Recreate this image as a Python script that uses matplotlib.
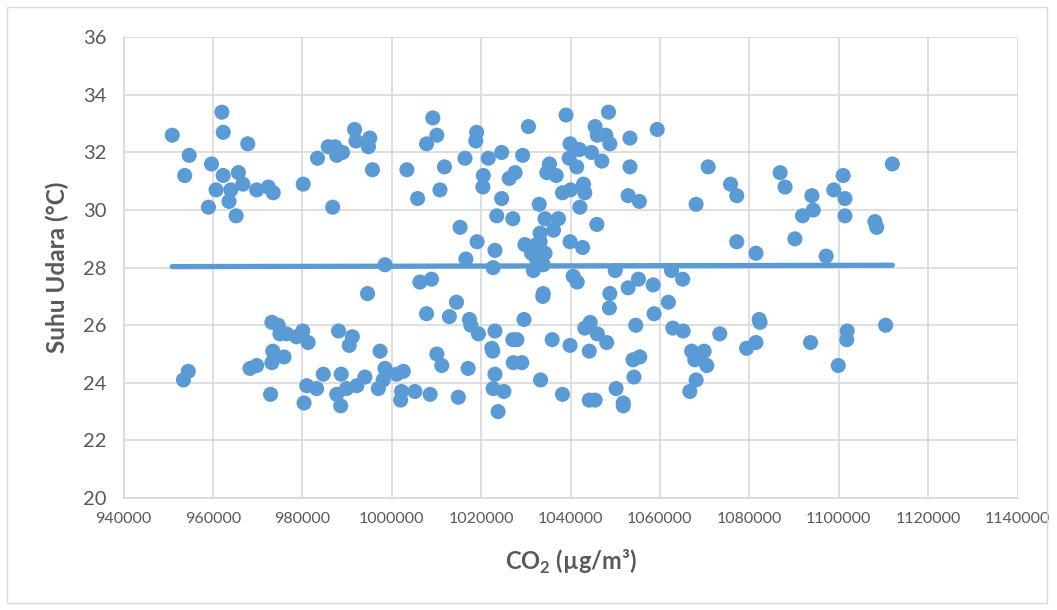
import numpy as np
import matplotlib.pyplot as plt
from matplotlib.patches import Rectangle
from matplotlib.ticker import MultipleLocator, FuncFormatter

plt.rcParams["font.family"] = ["Lato", "DejaVu Sans"]
plt.rcParams["mathtext.fontset"] = "custom"
plt.rcParams["mathtext.rm"] = "Lato"
plt.rcParams["mathtext.bf"] = "Lato:bold"

# CO2 concentration (ug/m3) vs air temperature (deg C)
co2 = [
    950900, 962000, 962300, 967800, 954700, 959700, 953700, 962300, 965700, 966700,
    960700, 964000, 963600, 969800, 972400, 973500, 959000, 965200, 980200, 983400,
    985800, 987300, 987700, 989000, 991700, 992000, 995100, 994800, 995700, 986800,
    998500,
    1009200, 1010100, 1007800, 1019000, 1018800, 1030600, 1039000, 1048500, 1045500,
    1046000, 1047900, 1048800, 1039900, 1042000, 1044700, 1039700, 1041400, 1047000, 1003400,
    1011800, 1016400, 1021600, 1024600, 1029300, 1020500, 1020400, 1026300, 1027600, 1035300,
    1034700, 1036800, 1010800, 1005800, 1024600, 1038200, 1040000, 1042900, 1043200, 1042100,
    1023500, 1027100, 1015300, 1033000, 1034300, 1037300, 1045900, 1036200, 1033200, 1029800,
    1032400, 1033200, 1039900, 1042700, 1031300, 1034300, 1032400, 1031700, 1033900, 1040600,
    1041500, 1050000, 1033900, 1048800, 1019100, 1023100, 1016600, 1022700, 1006300, 1008900,
    1053300, 1059400, 1053300, 1052900, 1055400, 1070800, 1068100, 1075800, 1077200, 1086900,
    1088000, 1094000, 1094300, 1091900, 1090200, 1098900, 1101000, 1101400, 1101400, 1077200,
    1081500, 1097200, 1062600, 1065100, 1055200, 1052900, 1058500, 1112000, 1108100, 1108500,
    994600, 973200, 974600, 975000, 976500, 980100, 978700, 981300, 988100, 991200,
    990500, 997400, 973400, 975900, 973200, 968300, 969800, 954500, 953400, 972900,
    980400, 981000, 983200, 984700, 988700, 987700, 989900, 992200, 994000, 988600,
    997000, 998500, 998100, 1001100, 1002600, 1002200, 1002000, 1005200, 1008600, 1014900,
    1010100, 1011200,
    1014500, 1007800, 1012900, 1017400, 1017700, 1019400, 1023100, 1029600, 1033800, 1048700,
    1027100, 1028000, 1022400, 1022600, 1035900, 1039900, 1044400, 1043200, 1046000, 1048100,
    1044200, 1017100, 1027200, 1029100, 1023100, 1033300, 1022700, 1025100, 1023800, 1038200,
    1044200, 1045500, 1050200, 1051800, 1051800,
    1061900, 1058700, 1054600, 1062900, 1065200, 1073400, 1082200, 1082400, 1081500, 1079400,
    1093700, 1101900, 1101800, 1099900, 1054000, 1055500, 1067100, 1069900, 1067800, 1070500,
    1069000, 1054200, 1068100, 1066700, 1110500,
]
suhu = [
    32.6, 33.4, 32.7, 32.3, 31.9, 31.6, 31.2, 31.2, 31.3, 30.9,
    30.7, 30.7, 30.3, 30.7, 30.8, 30.6, 30.1, 29.8, 30.9, 31.8,
    32.2, 32.2, 31.9, 32.0, 32.8, 32.4, 32.5, 32.2, 31.4, 30.1,
    28.1,
    33.2, 32.6, 32.3, 32.7, 32.4, 32.9, 33.3, 33.4, 32.9,
    32.6, 32.6, 32.3, 32.3, 32.1, 32.0, 31.8, 31.5, 31.7, 31.4,
    31.5, 31.8, 31.8, 32.0, 31.9, 31.2, 30.8, 31.1, 31.3, 31.6,
    31.3, 31.2, 30.7, 30.4, 30.4, 30.6, 30.7, 30.9, 30.6, 30.1,
    29.8, 29.7, 29.4, 30.2, 29.7, 29.7, 29.5, 29.3, 29.2, 28.8,
    28.8, 28.9, 28.9, 28.7, 28.5, 28.5, 28.3, 27.9, 28.1, 27.7,
    27.5, 27.9, 27.1, 27.1, 28.9, 28.6, 28.3, 28.0, 27.5, 27.6,
    32.5, 32.8, 31.5, 30.5, 30.3, 31.5, 30.2, 30.9, 30.5, 31.3,
    30.8, 30.5, 30.0, 29.8, 29.0, 30.7, 31.2, 30.4, 29.8, 28.9,
    28.5, 28.4, 27.9, 27.6, 27.6, 27.3, 27.4, 31.6, 29.6, 29.4,
    27.1, 26.1, 26.0, 25.7, 25.7, 25.8, 25.6, 25.4, 25.8, 25.6,
    25.3, 25.1, 25.1, 24.9, 24.7, 24.5, 24.6, 24.4, 24.1, 23.6,
    23.3, 23.9, 23.8, 24.3, 24.3, 23.6, 23.8, 23.9, 24.2, 23.2,
    23.8, 24.5, 24.1, 24.3, 24.4, 23.7, 23.4, 23.7, 23.6, 23.5,
    25.0, 24.6,
    26.8, 26.4, 26.3, 26.2, 26.0, 25.7, 25.8, 26.2, 27.0, 26.6,
    25.5, 25.5, 25.2, 25.1, 25.5, 25.3, 26.1, 25.9, 25.7, 25.4,
    25.1, 24.5, 24.7, 24.7, 24.3, 24.1, 23.8, 23.7, 23.0, 23.6,
    23.4, 23.4, 23.8, 23.3, 23.2,
    26.8, 26.4, 26.0, 25.9, 25.8, 25.7, 26.2, 26.1, 25.4, 25.2,
    25.4, 25.8, 25.5, 24.6, 24.8, 24.9, 25.1, 25.1, 24.8, 24.6,
    24.9, 24.2, 24.1, 23.7, 26.0,
]

blue = "#5b9bd5"
grid_c = "#d9d9d9"
text_c = "#595959"

fig = plt.figure(figsize=(10.57, 6.10), dpi=100)
fig.patches.append(Rectangle((7 / 1057, 7 / 610), 1040 / 1057, 596 / 610,
                             transform=fig.transFigure, fill=False,
                             edgecolor=grid_c, lw=1))
ax = fig.add_axes([123.5 / 1057, 1 - 498 / 610, 894 / 1057, 460.7 / 610])

x = np.array(co2, dtype=float)
y = np.array(suhu)
ax.scatter(x, y, s=118, color=blue, edgecolors="none", zorder=3)

# linear trend line over the data range
k, b = np.polyfit(x, y, 1)
xt = np.array([x.min(), x.max()])
ax.plot(xt, k * xt + b, color=blue, lw=3.8, solid_capstyle="round", zorder=2)

ax.set_xlim(940000, 1140000)
ax.set_ylim(20, 36)
ax.xaxis.set_major_locator(MultipleLocator(20000))
ax.yaxis.set_major_locator(MultipleLocator(2))
ax.xaxis.set_major_formatter(FuncFormatter(lambda v, p: f"{v:.0f}"))
ax.grid(True, color=grid_c, lw=1.2, zorder=0)
ax.set_axisbelow(True)
for side in ["top", "right"]:
    ax.spines[side].set_visible(False)
for side in ["left", "bottom"]:
    ax.spines[side].set_color(grid_c)
    ax.spines[side].set_linewidth(1.2)
ax.tick_params(length=0, colors=text_c)
ax.tick_params(axis="y", labelsize=14.5, pad=12)
ax.tick_params(axis="x", labelsize=11.5, pad=10)

ax.set_ylabel("Suhu Udara (°C)", fontsize=17.5, fontweight="bold", color=text_c, labelpad=10)
ax.set_xlabel(r"CO$_\mathbf{2}$ (µg/m³)", fontsize=17, fontweight="bold", color=text_c, labelpad=16)

fig.savefig("out.png", dpi=100)
